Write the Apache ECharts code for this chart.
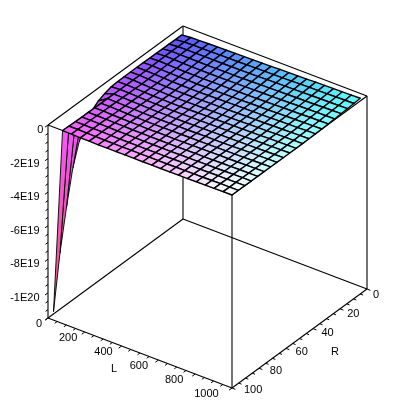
<!DOCTYPE html>
<html>
<head>
<meta charset="utf-8">
<style>html,body{margin:0;padding:0;background:#fff}#c{width:415px;height:415px}</style>
<script src="https://cdn.jsdelivr.net/npm/echarts@6/dist/echarts.min.js"></script>
</head>
<body>
<div id="c"></div>
<script>
// ---- data (z in units of 1E18) ----
var lValues = [30,79,127,176,224,273,321,370,418,467,515,564,612,661,709,758,806,855,903,952,1000];
var rValues = [5,9.75,14.5,19.25,24,28.75,33.5,38.25,43,47.75,52.5,57.25,62,66.75,71.5,76.25,81,85.75,90.5,95.25,100];
var zRows = [
[-1.1,-1.1,-1.0,-1.0,-0.9,-0.9,-0.8,-0.8,-0.8,-0.8,-0.9,-1.2,-2.4,-4.0,-7.0,-12,-20,-33,-54,-78,-110],
[-0.6,-0.6,-0.5,-0.5,-0.5,-0.6,-0.7,-0.8,-0.8,-0.8,-0.8,-0.8,-0.7,-0.6,-0.6,-0.5,-0.4,-0.4,-0.3,-0.2,0.0],
[-0.5,-0.4,-0.4,-0.5,-0.6,-0.7,-0.9,-1.0,-1.0,-1.1,-1.0,-0.9,-0.8,-0.7,-0.6,-0.5,-0.4,-0.3,-0.3,-0.2,-0.1],
[-0.3,-0.4,-0.4,-0.6,-0.8,-1.0,-1.1,-1.2,-1.3,-1.3,-1.2,-1.1,-1.0,-0.9,-0.8,-0.7,-0.5,-0.4,-0.4,-0.3,-0.3],
[-0.2,-0.3,-0.4,-0.6,-0.8,-1.1,-1.2,-1.4,-1.5,-1.5,-1.4,-1.3,-1.1,-1.0,-0.9,-0.8,-0.6,-0.5,-0.4,-0.4,-0.3],
[-0.1,-0.2,-0.4,-0.7,-0.9,-1.1,-1.3,-1.5,-1.6,-1.6,-1.5,-1.4,-1.3,-1.1,-1.0,-0.9,-0.7,-0.6,-0.5,-0.5,-0.4],
[0.0,-0.2,-0.4,-0.6,-0.9,-1.2,-1.4,-1.5,-1.6,-1.7,-1.6,-1.5,-1.3,-1.2,-1.1,-0.9,-0.8,-0.6,-0.6,-0.5,-0.4],
[0.1,-0.1,-0.3,-0.6,-0.9,-1.1,-1.3,-1.5,-1.6,-1.6,-1.6,-1.5,-1.3,-1.2,-1.1,-1.0,-0.8,-0.7,-0.6,-0.5,-0.4],
[0.2,0.0,-0.3,-0.6,-0.8,-1.0,-1.3,-1.4,-1.5,-1.5,-1.5,-1.4,-1.3,-1.2,-1.1,-0.9,-0.8,-0.7,-0.6,-0.5,-0.4],
[0.3,0.1,-0.2,-0.5,-0.7,-1.0,-1.2,-1.3,-1.4,-1.5,-1.4,-1.3,-1.3,-1.1,-1.0,-0.9,-0.8,-0.7,-0.6,-0.5,-0.4],
[0.4,0.2,-0.1,-0.4,-0.6,-0.9,-1.1,-1.2,-1.3,-1.4,-1.3,-1.3,-1.2,-1.1,-1.0,-0.9,-0.8,-0.7,-0.6,-0.5,-0.4],
[0.6,0.3,0.1,-0.2,-0.5,-0.8,-1.0,-1.1,-1.2,-1.3,-1.2,-1.2,-1.1,-1.0,-0.9,-0.8,-0.8,-0.7,-0.6,-0.5,-0.4],
[0.7,0.4,0.2,-0.1,-0.4,-0.7,-0.9,-1.0,-1.1,-1.2,-1.1,-1.1,-1.0,-0.9,-0.9,-0.8,-0.7,-0.6,-0.5,-0.5,-0.4],
[0.8,0.5,0.3,0.0,-0.3,-0.6,-0.8,-0.9,-1.0,-1.1,-1.0,-1.0,-0.9,-0.9,-0.8,-0.7,-0.6,-0.6,-0.5,-0.4,-0.4],
[0.9,0.7,0.4,0.1,-0.2,-0.5,-0.7,-0.8,-0.9,-0.9,-0.9,-0.9,-0.8,-0.8,-0.7,-0.6,-0.6,-0.5,-0.4,-0.4,-0.3],
[1.1,0.8,0.5,0.2,-0.1,-0.3,-0.5,-0.7,-0.8,-0.8,-0.8,-0.8,-0.7,-0.7,-0.6,-0.5,-0.5,-0.4,-0.4,-0.3,-0.3],
[1.2,0.9,0.6,0.3,0.1,-0.2,-0.4,-0.5,-0.6,-0.7,-0.7,-0.6,-0.6,-0.5,-0.5,-0.5,-0.4,-0.4,-0.3,-0.3,-0.2],
[1.3,1.0,0.7,0.4,0.2,-0.1,-0.3,-0.4,-0.5,-0.5,-0.5,-0.5,-0.5,-0.4,-0.4,-0.4,-0.3,-0.3,-0.2,-0.2,-0.2],
[1.4,1.1,0.8,0.6,0.3,0.1,-0.1,-0.3,-0.4,-0.4,-0.4,-0.4,-0.4,-0.3,-0.3,-0.3,-0.2,-0.2,-0.2,-0.1,-0.1],
[1.5,1.2,0.9,0.7,0.4,0.2,0.0,-0.1,-0.2,-0.3,-0.3,-0.3,-0.3,-0.2,-0.2,-0.2,-0.2,-0.1,-0.1,-0.1,0.0],
[1.6,1.3,1.0,0.8,0.5,0.3,0.1,0.0,-0.1,-0.2,-0.2,-0.2,-0.2,-0.2,-0.1,-0.1,-0.1,-0.1,0.0,0.0,0.0]
];
var lTicks = [0,200,400,600,800,1000];
var lTickLabels = ['0','200','400','600','800','1000'];
var rTicks = [0,20,40,60,80,100];
var rTickLabels = ['0','20','40','60','80','100'];
var zTicks = [0,-20,-40,-60,-80,-100];
var zTickLabels = ['0','-2E19','-4E19','-6E19','-8E19','-1E20'];
var lMinorStep = 50, rMinorStep = 5, zMinorStep = 5;
var lMax = 1000, rMax = 100, zMin = -115, zMax = 0;

// ---- view of the box ----
function project(L, R, z) {
  return [
    48 + 184 * L / lMax + 135 * (rMax - R) / rMax,
    318 + 70 * L / lMax - 99 * (rMax - R) / rMax - (z - zMin) * 193 / (zMax - zMin)
  ];
}
function colourOf(L, R, z) {
  var r = Math.round(70 + 180 * Math.pow(R / rMax, 0.85));
  var g = Math.round(70 + 185 * Math.pow(L / lMax, 0.85));
  var b = Math.max(0, Math.min(255, Math.round(255 + 1.3 * Math.min(0, z))));
  return 'rgb(' + r + ',' + g + ',' + b + ')';
}
var FONT = '11px "Liberation Sans", Arial, sans-serif';

// ---- marks ----
var quads = [];
for (var i = 0; i < lValues.length - 1; i++) {
  for (var j = 0; j < rValues.length - 1; j++) quads.push([i, j]);
}
var corners = {
  a: [0, rMax, zMin], b: [lMax, rMax, zMin], c: [lMax, 0, zMin], d: [0, 0, zMin],
  A: [0, rMax, zMax], B: [lMax, rMax, zMax], C: [lMax, 0, zMax], D: [0, 0, zMax]
};
var edges = ['ab','bc','cd','da','AB','BC','CD','DA','aA','bB','cC','dD'].map(function (e) {
  return corners[e[0]].concat(corners[e[1]]);
});

var tickDirs = { L: [-2.5, 1.8], R: [2.8, 1.1], Z: [-2.5, 1.8] };
var ticks = [];
for (var v = 0; v <= lMax; v += lMinorStep) ticks.push([v, rMax, zMin, 'L', v % 200 === 0 ? 1.2 : 1]);
for (v = 0; v <= rMax; v += rMinorStep) ticks.push([lMax, v, zMin, 'R', v % 20 === 0 ? 1.2 : 1]);
for (v = zMax; v >= zMin; v -= zMinorStep) ticks.push([0, rMax, v, 'Z', v % 20 === 0 ? 1.2 : 1]);

var labels = [];
lTicks.forEach(function (t, k) {
  labels.push([t, rMax, zMin, lTickLabels[k], -6 - 0.0073 * t, 5.5, 'right']);
});
rTicks.forEach(function (t, k) {
  labels.push([lMax, t, zMin, rTickLabels[k], 6 + 0.06 * t, 6 - 0.04 * t, 'left']);
});
zTicks.forEach(function (t, k) {
  labels.push([0, rMax, t, zTickLabels[k], t === 0 ? -4.7 : -8.5, 5.2, 'right']);
});
labels.push([500, rMax, zMin, 'L', -26, 16, 'center']);
labels.push([lMax, 50, zMin, 'R', 35.5, 13, 'center']);

var chart = echarts.init(document.getElementById('c'), null, { renderer: 'canvas' });
chart.setOption({
  animation: false,
  backgroundColor: '#fff',
  tooltip: { show: false },
  legend: { show: false },
  grid: { left: 0, right: 0, top: 0, bottom: 0 },
  xAxis: { type: 'value', min: 0, max: 415, show: false },
  yAxis: { type: 'value', min: 0, max: 415, inverse: true, show: false },
  series: [
    {
      name: 'box', type: 'custom', coordinateSystem: 'cartesian2d', silent: true, z: 1,
      data: edges,
      renderItem: function (p, api) {
        var s = api.coord(project(api.value(0), api.value(1), api.value(2)));
        var e = api.coord(project(api.value(3), api.value(4), api.value(5)));
        return { type: 'line', shape: { x1: s[0], y1: s[1], x2: e[0], y2: e[1] },
          style: { stroke: '#000', lineWidth: 1.1, fill: null } };
      }
    },
    {
      name: 'ticks', type: 'custom', coordinateSystem: 'cartesian2d', silent: true, z: 1,
      data: ticks.map(function (t) { return [t[0], t[1], t[2], t[4]]; }),
      renderItem: function (p, api) {
        var t = ticks[p.dataIndex], d = tickDirs[t[3]];
        var s = api.coord(project(api.value(0), api.value(1), api.value(2)));
        var k = api.value(3);
        return { type: 'line', shape: { x1: s[0], y1: s[1], x2: s[0] + d[0] * k, y2: s[1] + d[1] * k },
          style: { stroke: '#000', lineWidth: 1, fill: null } };
      }
    },
    {
      name: 'surface', type: 'custom', coordinateSystem: 'cartesian2d', silent: true, z: 2,
      data: quads,
      renderItem: function (p, api) {
        var i = api.value(0), j = api.value(1);
        var nodes = [[i, j], [i + 1, j], [i + 1, j + 1], [i, j + 1]].map(function (n) {
          return [lValues[n[0]], rValues[n[1]], zRows[n[0]][n[1]]];
        });
        var pts = nodes.map(function (n) { return api.coord(project(n[0], n[1], n[2])); });
        var mean = [0, 0, 0], lo = nodes[0], hi = nodes[0];
        nodes.forEach(function (n) {
          mean[0] += n[0] / 4; mean[1] += n[1] / 4; mean[2] += n[2] / 4;
          if (n[2] < lo[2]) lo = n;
          if (n[2] > hi[2]) hi = n;
        });
        var fill = colourOf(mean[0], mean[1], mean[2]);
        var steep = hi[2] - lo[2] > 8;
        if (steep) {
          fill = new echarts.graphic.LinearGradient(0, 0, 0, 1, [
            { offset: 0, color: colourOf(mean[0], mean[1], hi[2]) },
            { offset: 1, color: colourOf(mean[0], mean[1], lo[2]) }
          ]);
        }
        return { type: 'polygon', shape: { points: pts },
          style: { fill: fill, stroke: '#000', lineWidth: steep ? 0.9 : 1.4, lineJoin: 'round' } };
      }
    },
    {
      name: 'labels', type: 'custom', coordinateSystem: 'cartesian2d', silent: true, z: 3,
      data: labels.map(function (t) { return [t[0], t[1], t[2]]; }),
      renderItem: function (p, api) {
        var t = labels[p.dataIndex];
        var s = api.coord(project(api.value(0), api.value(1), api.value(2)));
        return { type: 'text', x: s[0] + t[4], y: s[1] + t[5],
          style: { text: t[3], font: FONT, fill: '#000', align: t[6], verticalAlign: 'middle' } };
      }
    }
  ]
});
</script>
</body>
</html>
